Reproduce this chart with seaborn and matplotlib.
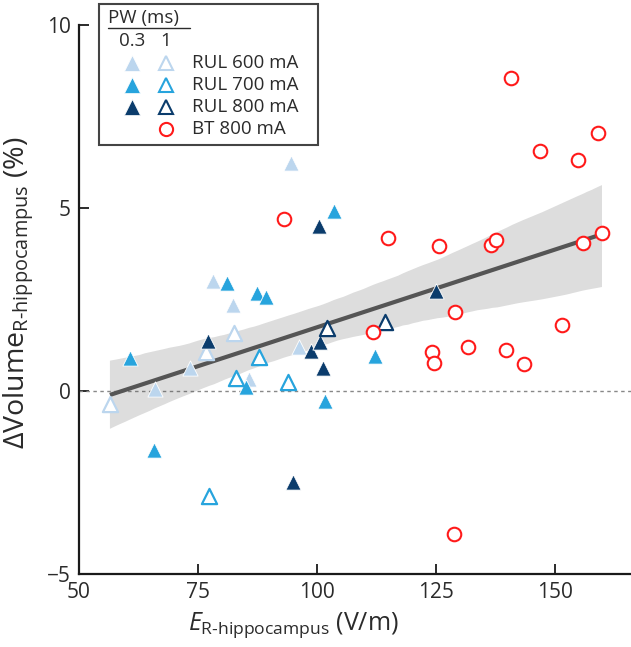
import numpy as np
import pandas as pd
import matplotlib
matplotlib.use("Agg")
import matplotlib.pyplot as plt
import seaborn as sns
from matplotlib.patches import Rectangle

# E-field in R-hippocampus (V/m) and volume change (%)
rul600_short_x = [94.6, 78.2, 82.4, 73.4, 65.9, 96.3, 85.7]
rul600_short_y = [6.24, 3.01, 2.35, 0.62, 0.05, 1.19, 0.32]
rul600_long_x = [82.5, 76.6, 56.5]
rul600_long_y = [1.59, 1.07, -0.36]
rul700_short_x = [60.7, 81.2, 87.4, 89.2, 103.5, 85.0, 65.7, 101.8, 112.1]
rul700_short_y = [0.89, 2.94, 2.67, 2.58, 4.93, 0.12, -1.61, -0.26, 0.96]
rul700_long_x = [87.8, 82.9, 93.9, 77.3]
rul700_long_y = [0.92, 0.35, 0.25, -2.87]
rul800_short_x = [77.1, 100.4, 98.8, 100.7, 101.2, 94.9, 125.0]
rul800_short_y = [1.37, 4.51, 1.09, 1.33, 0.62, -2.48, 2.74]
rul800_long_x = [102.1, 114.2]
rul800_long_y = [1.71, 1.89]
bt800_x = [93.0, 140.7, 159.0, 146.9, 154.8, 114.9, 125.7, 136.5, 137.6, 155.9,
           159.9, 129.0, 111.7, 151.5, 124.1, 124.6, 131.8, 139.7, 143.6, 128.7]
bt800_y = [4.70, 8.54, 7.05, 6.57, 6.31, 4.19, 3.97, 3.99, 4.13, 4.05,
           4.31, 2.17, 1.62, 1.79, 1.07, 0.76, 1.21, 1.12, 0.74, -3.92]

legend_labels = ["RUL 600 mA", "RUL 700 mA", "RUL 800 mA", "BT 800 mA"]

c600 = "#bcd6ee"
c700 = "#27a4dd"
c800 = "#0b3c6c"
cbt = "#ff1a1a"
txt = "#2b2b2b"

sns.set_style("ticks")
plt.rcParams["font.family"] = ["Open Sans", "DejaVu Sans"]
plt.rcParams["mathtext.fontset"] = "custom"
plt.rcParams["mathtext.rm"] = "Open Sans"
plt.rcParams["mathtext.it"] = "Open Sans:italic"
plt.rcParams["mathtext.bf"] = "Open Sans:bold"

# groups: (x, y, face, edge, marker, edge width)
groups = [
    (rul600_short_x, rul600_short_y, c600, "white", "^", 0.6),
    (rul600_long_x, rul600_long_y, "white", c600, "^", 1.6),
    (rul700_short_x, rul700_short_y, c700, "white", "^", 0.6),
    (rul700_long_x, rul700_long_y, "white", c700, "^", 1.6),
    (rul800_short_x, rul800_short_y, c800, "white", "^", 0.6),
    (rul800_long_x, rul800_long_y, "white", c800, "^", 1.6),
    (bt800_x, bt800_y, "white", cbt, "o", 1.5),
]

all_x = np.concatenate([np.array(g[0]) for g in groups])
all_y = np.concatenate([np.array(g[1]) for g in groups])
df = pd.DataFrame({"E": all_x, "dV": all_y})

fig = plt.figure(figsize=(6.31, 6.47), dpi=100)
ax = fig.add_axes([79 / 631, 73 / 647, 552 / 631, 549 / 647])

ax.axhline(0, color="#888888", lw=1, ls=(0, (2.5, 2.5)), zorder=1)

sns.regplot(data=df, x="E", y="dV", scatter=False, ax=ax, color="#555555",
            line_kws=dict(lw=3, solid_capstyle="butt"), seed=3, truncate=True)
for coll in ax.collections:
    coll.set_alpha(0.2)
    coll.set_edgecolor("none")

for gx, gy, face, edge, mk, lw in groups:
    sns.scatterplot(x=gx, y=gy, ax=ax, marker=mk, color=face, edgecolor=edge,
                    linewidth=lw, s=120 if mk == "^" else 95, zorder=4)

ax.set_xlim(50, 166)
ax.set_ylim(-5, 10)
ax.set_xticks([50, 75, 100, 125, 150])
ax.set_yticks([-5, 0, 5, 10])
ax.set_yticklabels(["\u22125", "0", "5", "10"])
ax.tick_params(direction="in", length=7, width=1.3, labelsize=15, pad=6,
               colors="#1a1a1a", labelcolor=txt)
for side in ["top", "right"]:
    ax.spines[side].set_visible(False)
for side in ["left", "bottom"]:
    ax.spines[side].set_linewidth(1.6)
    ax.spines[side].set_color("#1a1a1a")

ax.set_xlabel(r"$E_{\text{R-hippocampus}}$ (V/m)", fontsize=18, color=txt)
ax.set_ylabel(r"$\Delta\mathrm{Volume}_{\text{R-hippocampus}}$ (%)", fontsize=20.5,
              color=txt)
ax.xaxis.set_label_coords(0.388, -0.066)
ax.yaxis.set_label_coords(-0.078, 0.512)

# legend drawn by hand: two marker columns for the pulse widths
def px2ax(px, py):
    return (px - 79) / 552, (574 - py) / 549

x0, y0 = px2ax(99, 145)
x1, y1 = px2ax(318, 4)
ax.add_patch(Rectangle((x0, y0), x1 - x0, y1 - y0, transform=ax.transAxes,
                       fill=True, facecolor="white", edgecolor="#444444",
                       lw=1.5, clip_on=False, zorder=6))
tx, ty = px2ax(108, 18)
ax.text(tx, ty, "PW (ms)", transform=ax.transAxes, fontsize=13.5, va="center",
        ha="left", color=txt, zorder=7)
ux0, uy = px2ax(108, 28)
ux1, _ = px2ax(190, 28)
ax.plot([ux0, ux1], [uy, uy], transform=ax.transAxes, color=txt, lw=1,
        clip_on=False, zorder=7)
col1, hy = px2ax(132, 41)
col2, _ = px2ax(166, 41)
ax.text(col1, hy, "0.3", transform=ax.transAxes, fontsize=13.5, ha="center",
        va="center", color=txt, zorder=7)
ax.text(col2, hy, "1", transform=ax.transAxes, fontsize=13.5, ha="center",
        va="center", color=txt, zorder=7)
lab_x, _ = px2ax(192, 0)
rows = [63, 85, 107, 129]
leg_cols = [c600, c700, c800]
for i, label in enumerate(legend_labels):
    _, ry = px2ax(0, rows[i])
    if i < 3:
        ax.plot([col1], [ry], transform=ax.transAxes, marker="^", ms=11,
                mfc=leg_cols[i], mec="white", mew=0.5, ls="none", clip_on=False,
                zorder=7)
        ax.plot([col2], [ry], transform=ax.transAxes, marker="^", ms=10.5,
                mfc="white", mec=leg_cols[i], mew=1.5, ls="none", clip_on=False,
                zorder=7)
    else:
        ax.plot([col2], [ry], transform=ax.transAxes, marker="o", ms=9.5,
                mfc="white", mec=cbt, mew=1.5, ls="none", clip_on=False,
                zorder=7)
    ax.text(lab_x, ry, label, transform=ax.transAxes, fontsize=13.5,
            ha="left", va="center", color=txt, zorder=7)

fig.savefig("out.png", dpi=100)
